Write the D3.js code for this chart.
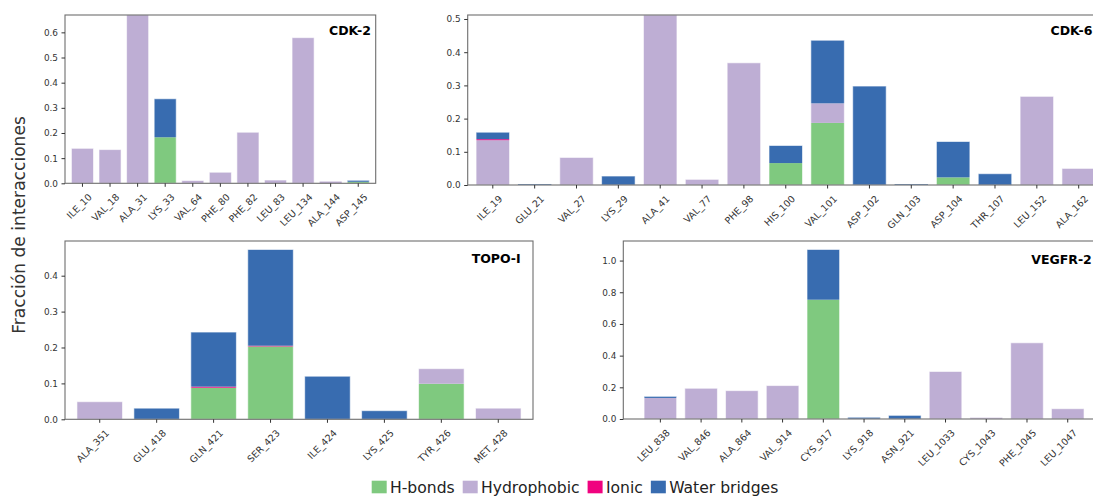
<!DOCTYPE html>
<html>
<head>
<meta charset="utf-8">
<script src="https://cdn.jsdelivr.net/npm/d3@7"></script>
<style>
  body { margin: 0; background: #fff; }
  svg { display: block; font-family: "DejaVu Sans", sans-serif; }
</style>
</head>
<body>
<svg id="chart" width="1093" height="497"></svg>
<script>
// Interaction types, stacked bottom to top
const seriesNames = ["H-bonds", "Hydrophobic", "Ionic", "Water bridges"];
const seriesColors = ["#7fc97f", "#beaed4", "#f0027f", "#386cb0"];

// CDK-2
const cdk2Residues = ["ILE_10", "VAL_18", "ALA_31", "LYS_33", "VAL_64", "PHE_80", "PHE_82", "LEU_83", "LEU_134", "ALA_144", "ASP_145"];
const cdk2HBonds      = [0, 0, 0, 0.183, 0, 0, 0, 0, 0, 0, 0.006];
const cdk2Hydrophobic = [0.139, 0.134, 0.67, 0, 0.011, 0.044, 0.203, 0.013, 0.579, 0.007, 0];
const cdk2Ionic       = [0, 0, 0, 0, 0, 0, 0, 0, 0, 0, 0];
const cdk2Water       = [0, 0, 0, 0.153, 0, 0, 0, 0, 0, 0, 0.006];
const cdk2YTicks = [0, 0.1, 0.2, 0.3, 0.4, 0.5, 0.6];

// CDK-6
const cdk6Residues = ["ILE_19", "GLU_21", "VAL_27", "LYS_29", "ALA_41", "VAL_77", "PHE_98", "HIS_100", "VAL_101", "ASP_102", "GLN_103", "ASP_104", "THR_107", "LEU_152", "ALA_162"];
const cdk6HBonds      = [0, 0, 0, 0, 0, 0, 0, 0.066, 0.187, 0, 0, 0.023, 0, 0, 0];
const cdk6Hydrophobic = [0.135, 0, 0.083, 0, 0.512, 0.017, 0.368, 0, 0.059, 0, 0, 0, 0, 0.267, 0.05];
const cdk6Ionic       = [0.003, 0, 0, 0, 0, 0, 0, 0, 0, 0, 0, 0, 0, 0, 0];
const cdk6Water       = [0.021, 0.002, 0, 0.027, 0, 0, 0, 0.053, 0.19, 0.298, 0.002, 0.108, 0.034, 0, 0];
const cdk6YTicks = [0, 0.1, 0.2, 0.3, 0.4, 0.5];

// TOPO-I
const topoResidues = ["ALA_351", "GLU_418", "GLN_421", "SER_423", "ILE_424", "LYS_425", "TYR_426", "MET_428"];
const topoHBonds      = [0, 0, 0.088, 0.203, 0, 0, 0.099, 0];
const topoHydrophobic = [0.049, 0, 0, 0, 0, 0, 0.042, 0.031];
const topoIonic       = [0, 0, 0.003, 0.002, 0, 0, 0, 0];
const topoWater       = [0, 0.031, 0.152, 0.268, 0.12, 0.024, 0, 0];
const topoYTicks = [0, 0.1, 0.2, 0.3, 0.4];

// VEGFR-2
const vegfrResidues = ["LEU_838", "VAL_846", "ALA_864", "VAL_914", "CYS_917", "LYS_918", "ASN_921", "LEU_1033", "CYS_1043", "PHE_1045", "LEU_1047"];
const vegfrHBonds      = [0, 0, 0, 0, 0.753, 0, 0, 0, 0, 0, 0];
const vegfrHydrophobic = [0.133, 0.194, 0.179, 0.211, 0, 0, 0, 0.30, 0.01, 0.481, 0.065];
const vegfrIonic       = [0, 0, 0, 0, 0, 0, 0, 0, 0, 0, 0];
const vegfrWater       = [0.01, 0, 0, 0, 0.317, 0.011, 0.023, 0, 0, 0, 0];
const vegfrYTicks = [0, 0.2, 0.4, 0.6, 0.8, 1.0];

const yLabel = "Fracción de interacciones";

// Panel frames and options
const panels = [
  { title: "CDK-2", residues: cdk2Residues, series: [cdk2HBonds, cdk2Hydrophobic, cdk2Ionic, cdk2Water], yTicks: cdk2YTicks,
    box: { l: 65, r: 375.7, t: 15, b: 183.3 }, yMax: 0.669, padOuter: 0.233, titleDx: 4.7, titleDy: 20 },
  { title: "CDK-6", residues: cdk6Residues, series: [cdk6HBonds, cdk6Hydrophobic, cdk6Ionic, cdk6Water], yTicks: cdk6YTicks,
    box: { l: 467.7, r: 1103.8, t: 15, b: 185 }, yMax: 0.512, padOuter: 0.2, titleDx: 11.3, titleDy: 19.5 },
  { title: "TOPO-I", residues: topoResidues, series: [topoHBonds, topoHydrophobic, topoIonic, topoWater], yTicks: topoYTicks,
    box: { l: 65, r: 533, t: 241, b: 419.3 }, yMax: null, padOuter: 0.21, titleDx: 12.3, titleDy: 22.3 },
  { title: "VEGFR-2", residues: vegfrResidues, series: [vegfrHBonds, vegfrHydrophobic, vegfrIonic, vegfrWater], yTicks: vegfrYTicks,
    box: { l: 623.3, r: 1104.8, t: 241, b: 419 }, yMax: null, padOuter: 0.51, titleDx: 13, titleDy: 23 }
];

const svg = d3.select("#chart");

panels.forEach((p, pi) => {
  const rows = p.residues.map((res, i) => {
    const row = { residue: res };
    seriesNames.forEach((s, k) => { row[s] = p.series[k][i]; });
    return row;
  });
  const stacked = d3.stack().keys(seriesNames)(rows);
  const totals = rows.map(r => d3.sum(seriesNames, s => r[s]));
  const yMax = p.yMax != null ? p.yMax : d3.max(totals) * 1.05;

  const x = d3.scaleBand().domain(p.residues).range([p.box.l, p.box.r])
    .paddingInner(0.2).paddingOuter(p.padOuter);
  const y = d3.scaleLinear().domain([0, yMax]).range([p.box.b, p.box.t]);

  const g = svg.append("g");
  const clipId = "clip" + pi;
  g.append("clipPath").attr("id", clipId).append("rect")
    .attr("x", p.box.l).attr("y", p.box.t)
    .attr("width", p.box.r - p.box.l).attr("height", p.box.b - p.box.t);

  const bars = g.append("g").attr("clip-path", `url(#${clipId})`);
  stacked.forEach((layer, k) => {
    bars.append("g").attr("fill", seriesColors[k])
      .selectAll("rect").data(layer.filter(d => d[1] - d[0] > 0)).join("rect")
      .attr("x", d => x(d.data.residue))
      .attr("width", x.bandwidth())
      .attr("y", d => y(d[1]))
      .attr("height", d => y(d[0]) - y(d[1]));
  });
  // light outline around each stacked bar
  bars.append("g").selectAll("rect").data(rows.filter((r, i) => totals[i] > 0.008)).join("rect")
    .attr("x", d => x(d.residue))
    .attr("width", x.bandwidth())
    .attr("y", d => y(d3.sum(seriesNames, s => d[s])))
    .attr("height", d => p.box.b - y(d3.sum(seriesNames, s => d[s])))
    .attr("fill", "none").attr("stroke", "#ffffff").attr("stroke-opacity", 0.6).attr("stroke-width", 1);

  // frame
  g.append("rect")
    .attr("x", p.box.l).attr("y", p.box.t)
    .attr("width", p.box.r - p.box.l).attr("height", p.box.b - p.box.t)
    .attr("fill", "none").attr("stroke", "#6e6e6e").attr("stroke-width", 1.1);

  // y axis
  const ya = g.append("g").attr("transform", `translate(${p.box.l},0)`)
    .call(d3.axisLeft(y).tickValues(p.yTicks).tickFormat(d3.format(".1f")).tickSize(3.5).tickPadding(3.5));
  ya.select(".domain").remove();
  ya.selectAll("line").attr("stroke", "#333");
  ya.selectAll("text").attr("fill", "#333").attr("font-size", 8.9).attr("font-family", "DejaVu Sans");

  // x axis
  const xa = g.append("g").attr("transform", `translate(0,${p.box.b})`)
    .call(d3.axisBottom(x).tickSize(3.5).tickPadding(0));
  xa.select(".domain").remove();
  xa.selectAll("line").attr("stroke", "#333");
  xa.selectAll("text")
    .attr("fill", "#333").attr("font-size", 9.5).attr("font-family", "DejaVu Sans")
    .attr("text-anchor", "end")
    .attr("y", 0).attr("dy", 0)
    .attr("dominant-baseline", "hanging")
    .attr("transform", "translate(5,9.3) rotate(-45)");

  // panel title
  g.append("text")
    .attr("x", p.box.r - p.titleDx).attr("y", p.box.t + p.titleDy)
    .attr("text-anchor", "end").attr("font-weight", "bold").attr("font-size", 12.5)
    .attr("fill", "#000").text(p.title);
});

// shared y label
svg.append("text")
  .attr("transform", "translate(25,225) rotate(-90)")
  .attr("text-anchor", "middle").attr("font-size", 17.1).attr("fill", "#333")
  .text(yLabel);

// legend
const legend = svg.append("g");
let lx = 371.7;
seriesNames.forEach((s, k) => {
  legend.append("rect").attr("x", lx).attr("y", 480.7).attr("width", 15).attr("height", 12.6)
    .attr("fill", seriesColors[k]);
  const t = legend.append("text").attr("x", lx + 18.3).attr("y", 493.4)
    .attr("font-size", 15.6).attr("fill", "#222").text(s);
  lx += 18.3 + t.node().getComputedTextLength() + 8;
});
</script>
</body>
</html>
